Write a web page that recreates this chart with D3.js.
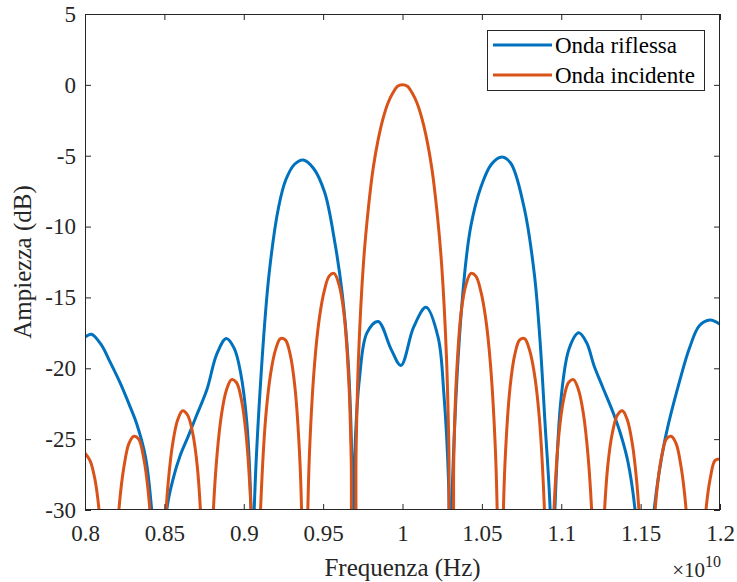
<!DOCTYPE html>
<html>
<head>
<meta charset="utf-8">
<script src="https://cdn.jsdelivr.net/npm/d3@7"></script>
<style>
  html, body { margin: 0; padding: 0; background: #ffffff; }
  svg { display: block; }
</style>
</head>
<body>
<svg id="chart" width="737" height="582"></svg>
<script>
// ---------- data (frequency in units of 1e10 Hz, amplitude in dB) ----------
const seriesNames = ["Onda riflessa", "Onda incidente"];
const seriesColors = ["#0072BD", "#D95319"];

const freqRiflessa = [0.8000,0.8040,0.8100,0.8160,0.8220,0.8280,0.8325,0.8380,0.8420,0.8470,0.8515,0.8555,0.8598,0.8650,0.8700,0.8768,0.8830,0.8890,0.8940,0.8980,0.9020,0.9046,0.9056,0.9066,0.9110,0.9160,0.9220,0.9265,0.9320,0.9375,0.9440,0.9510,0.9575,0.9620,0.9657,0.9680,0.9690,0.9700,0.9730,0.9776,0.9846,0.9930,0.9990,1.0070,1.0148,1.0224,1.0260,1.0290,1.0302,1.0315,1.0380,1.0430,1.0494,1.0560,1.0620,1.0680,1.0765,1.0830,1.0866,1.0898,1.0930,1.0945,1.0960,1.1000,1.1050,1.1110,1.1160,1.1206,1.1260,1.1326,1.1370,1.1420,1.1465,1.1525,1.1585,1.1654,1.1748,1.1810,1.1870,1.1937,1.2000];
const dbRiflessa = [-17.8,-17.6,-18.3,-19.6,-21.0,-22.6,-23.9,-26.2,-30.0,-40,-30.0,-27.8,-26.2,-24.8,-23.4,-21.5,-19.0,-17.9,-18.6,-20.3,-23.9,-30,-40,-30,-20.3,-13.3,-8.6,-6.7,-5.6,-5.3,-5.9,-7.6,-11.2,-14.7,-19.4,-26,-40,-26,-20.6,-17.5,-16.7,-18.7,-19.8,-17.1,-15.7,-17.8,-21.7,-28,-40,-28,-14.7,-10.0,-7.2,-5.6,-5.1,-5.5,-8.6,-13.3,-18.0,-23.9,-30,-40,-30,-22.0,-18.6,-17.5,-18.2,-19.8,-21.3,-23.1,-24.5,-26.6,-30,-40,-30,-25.0,-20.8,-18.5,-17.0,-16.6,-16.9];

const freqIncidente = [
0.8000,0.8031,0.8062,0.8092,0.8123,0.8138,0.8148,
0.8160,0.8169,0.8185,0.8215,0.8246,0.8277,0.8308,0.8338,0.8369,0.8400,0.8431,0.8446,0.8455,
0.8468,0.8477,0.8492,0.8523,0.8554,0.8585,0.8615,0.8646,0.8677,0.8708,0.8738,0.8754,0.8763,
0.8775,0.8785,0.8800,0.8831,0.8862,0.8892,0.8923,0.8954,0.8985,0.9015,0.9046,0.9062,0.9071,
0.9083,0.9092,0.9108,0.9138,0.9169,0.9200,0.9231,0.9262,0.9292,0.9323,0.9354,0.9369,0.9378,
0.9391,0.9400,0.9415,0.9446,0.9477,0.9508,0.9538,0.9569,0.9600,0.9631,0.9662,0.9677,0.9686,
0.9698,0.9708,0.9723,0.9754,0.9785,0.9815,0.9846,0.9877,0.9908,0.9938,0.9969,1.0000,1.0031,1.0062,1.0092,1.0123,1.0154,1.0185,1.0215,1.0246,1.0277,1.0292,1.0302,
1.0314,1.0323,1.0338,1.0369,1.0400,1.0431,1.0462,1.0492,1.0523,1.0554,1.0585,1.0600,1.0609,
1.0622,1.0631,1.0646,1.0677,1.0708,1.0738,1.0769,1.0800,1.0831,1.0862,1.0892,1.0908,1.0917,
1.0929,1.0938,1.0954,1.0985,1.1015,1.1046,1.1077,1.1108,1.1138,1.1169,1.1200,1.1215,1.1225,
1.1237,1.1246,1.1262,1.1292,1.1323,1.1354,1.1385,1.1415,1.1446,1.1477,1.1508,1.1523,1.1532,
1.1545,1.1554,1.1569,1.1600,1.1631,1.1662,1.1692,1.1723,1.1754,1.1785,1.1815,1.1831,1.1840,
1.1852,1.1862,1.1877,1.1908,1.1938,1.1969,1.2000];
const dbIncidente = [
-26.0,-26.5,-27.8,-30.4,-35.9,-41.7,-49.6,
-49.5,-41.5,-35.6,-29.8,-26.9,-25.3,-24.8,-25.0,-26.3,-28.9,-34.3,-40.1,-48.0,
-47.9,-39.9,-33.9,-28.2,-25.2,-23.6,-23.0,-23.3,-24.5,-27.0,-32.4,-38.2,-46.1,
-46.0,-38.0,-32.0,-26.2,-23.1,-21.5,-20.8,-21.0,-22.2,-24.7,-30.0,-35.7,-43.6,
-43.5,-35.5,-29.4,-23.5,-20.4,-18.7,-17.9,-18.0,-19.0,-21.4,-26.6,-32.3,-40.1,
-39.9,-31.9,-25.7,-19.7,-16.4,-14.5,-13.5,-13.3,-14.1,-16.1,-21.0,-26.5,-34.2,
-33.8,-25.6,-19.2,-12.6,-8.7,-5.9,-3.9,-2.4,-1.3,-0.6,-0.1,0,-0.1,-0.6,-1.3,-2.4,-3.9,-5.9,-8.7,-12.6,-19.2,-25.6,-33.8,
-34.2,-26.5,-21.0,-16.1,-14.1,-13.3,-13.5,-14.5,-16.4,-19.7,-25.7,-31.9,-39.9,
-40.1,-32.3,-26.6,-21.4,-19.0,-18.0,-17.9,-18.7,-20.4,-23.5,-29.4,-35.5,-43.5,
-43.6,-35.7,-30.0,-24.7,-22.2,-21.0,-20.8,-21.5,-23.1,-26.2,-32.0,-38.0,-46.0,
-46.1,-38.2,-32.4,-27.0,-24.5,-23.3,-23.0,-23.6,-25.2,-28.2,-33.9,-39.9,-47.9,
-48.0,-40.1,-34.3,-28.9,-26.3,-25.0,-24.8,-25.3,-26.9,-29.8,-35.6,-41.5,-49.5,
-49.6,-41.7,-35.9,-30.4,-27.8,-26.5,-26.4];

const xTicks = [0.8, 0.85, 0.9, 0.95, 1.0, 1.05, 1.1, 1.15, 1.2];
const xTickLabels = ["0.8","0.85","0.9","0.95","1","1.05","1.1","1.15","1.2"];
const yTicks = [5, 0, -5, -10, -15, -20, -25, -30];
const yTickLabels = ["5","0","-5","-10","-15","-20","-25","-30"];
const xLabel = "Frequenza (Hz)";
const yLabel = "Ampiezza (dB)";
const xExponent = "10";

// ---------- layout ----------
const svg = d3.select("#chart");
const L = 85, T = 14, R = 720, B = 510;
const axisColor = "#262626";
const font = "'Liberation Serif', 'Times New Roman', serif";

const x = d3.scaleLinear().domain([0.8, 1.2]).range([L, R]);
const y = d3.scaleLinear().domain([-30, 5]).range([B, T]);

svg.append("rect").attr("x", 0).attr("y", 0).attr("width", 737).attr("height", 582).attr("fill", "#fff");

svg.append("defs").append("clipPath").attr("id", "plotclip")
  .append("rect").attr("x", L).attr("y", T).attr("width", R - L).attr("height", B - T);

// ---------- curves ----------
const series = [
  { name: seriesNames[0], color: seriesColors[0], f: freqRiflessa, v: dbRiflessa },
  { name: seriesNames[1], color: seriesColors[1], f: freqIncidente, v: dbIncidente }
];
const line = d3.line()
  .x(d => x(d[0]))
  .y(d => y(d[1]))
  .curve(d3.curveCatmullRom.alpha(0.5));

const plot = svg.append("g").attr("clip-path", "url(#plotclip)");
series.forEach(s => {
  const pts = s.f.map((f, i) => [f, s.v[i]]);
  plot.append("path")
    .datum(pts)
    .attr("d", line)
    .attr("fill", "none")
    .attr("stroke", s.color)
    .attr("stroke-width", 3)
    .attr("stroke-linejoin", "round");
});

// ---------- axes ----------
function styleAxis(g) {
  g.select(".domain").remove();
  g.selectAll(".tick line").attr("stroke", axisColor).attr("stroke-width", 1);
  g.selectAll("text").attr("fill", axisColor).style("font-family", font).style("font-size", "23px");
}

svg.append("g").attr("transform", `translate(0,${B})`)
  .call(d3.axisBottom(x).tickValues(xTicks).tickFormat((d, i) => xTickLabels[i]).tickSize(-6).tickPadding(15))
  .call(styleAxis);
svg.append("g").attr("transform", `translate(0,${T})`)
  .call(d3.axisTop(x).tickValues(xTicks).tickFormat("").tickSize(-6))
  .call(styleAxis);
svg.append("g").attr("transform", `translate(${L},0)`)
  .call(d3.axisLeft(y).tickValues(yTicks).tickFormat((d, i) => yTickLabels[i]).tickSize(-6).tickPadding(9))
  .call(styleAxis);
svg.append("g").attr("transform", `translate(${R},0)`)
  .call(d3.axisRight(y).tickValues(yTicks).tickFormat("").tickSize(-6))
  .call(styleAxis);

svg.append("rect")
  .attr("x", L + 0.5).attr("y", T + 0.5).attr("width", R - L - 1).attr("height", B - T - 1)
  .attr("fill", "none").attr("stroke", axisColor).attr("stroke-width", 1);

// ---------- labels ----------
svg.append("text")
  .attr("x", (L + R) / 2).attr("y", 576)
  .attr("text-anchor", "middle")
  .attr("fill", axisColor)
  .style("font-family", font).style("font-size", "25px")
  .text(xLabel);

svg.append("text")
  .attr("transform", `translate(31,${(T + B) / 2}) rotate(-90)`)
  .attr("text-anchor", "middle")
  .attr("fill", axisColor)
  .style("font-family", font).style("font-size", "25px")
  .text(yLabel);

const expText = svg.append("text")
  .attr("x", 721).attr("y", 577)
  .attr("text-anchor", "end")
  .attr("fill", axisColor)
  .style("font-family", font).style("font-size", "21px");
expText.append("tspan").text("\u00D710");
expText.append("tspan").attr("dy", -10).style("font-size", "16px").text(xExponent);

// ---------- legend ----------
const lg = svg.append("g");
lg.append("rect")
  .attr("x", 487.5).attr("y", 30.5).attr("width", 217).attr("height", 60)
  .attr("fill", "#fff").attr("stroke", axisColor).attr("stroke-width", 1);
series.forEach((s, i) => {
  const cy = 45 + i * 30;
  lg.append("line")
    .attr("x1", 493).attr("x2", 552).attr("y1", cy).attr("y2", cy)
    .attr("stroke", s.color).attr("stroke-width", 3);
  lg.append("text")
    .attr("x", 555).attr("y", cy + 8)
    .attr("fill", "#000")
    .style("font-family", font).style("font-size", "23px")
    .text(s.name);
});
</script>
</body>
</html>
